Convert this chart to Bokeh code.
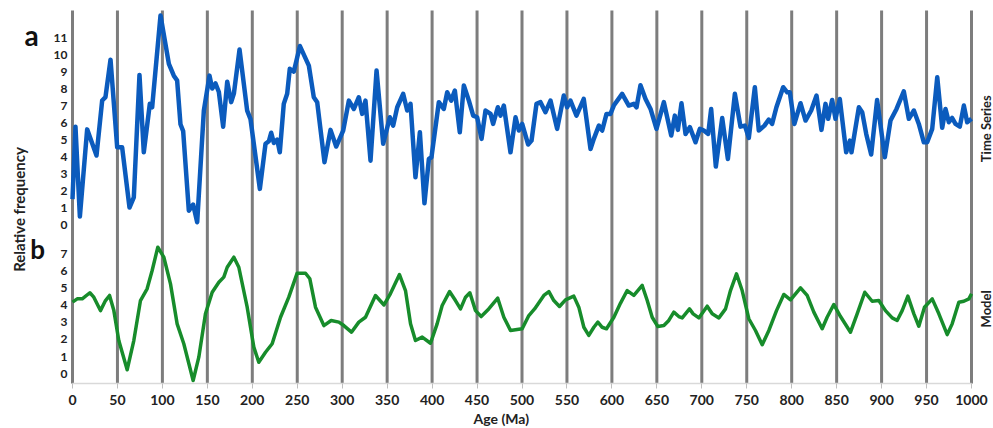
import math
from bokeh.plotting import figure
from bokeh.models import (ColumnDataSource, Range1d, FixedTicker, CustomJSTickFormatter, Label,
                          LinearAxis)
from bokeh.transform import dodge
from bokeh.embed import file_html
from bokeh.resources import INLINE

# ---- data ----
ts_age = [0, 3.3, 8.2, 16.3, 26.7, 33, 36.7, 42.3, 49.7, 55.2, 63.4, 68.2, 74.5, 79.3, 86, 88.6, 97.9,
          107.2, 112.7, 116.4, 120.1, 123.1, 129.4, 134.2, 138.7, 146.1, 152.4, 155.4, 159.1, 162.8,
          167.6, 172.1, 176.5, 179.5, 185.8, 194.3, 198, 208.4, 214.7, 218.4, 221, 224, 227.7, 230.6,
          235, 238.8, 241.7, 246.2, 253, 262.9, 268.4, 272.2, 280.3, 287, 293.3, 301.1, 307.4, 313,
          318.5, 322.2, 325.9, 331.5, 338.2, 345.6, 353, 356.7, 361.2, 367.8, 372.3, 376, 381.5, 386.4,
          391.5, 396.4, 399.3, 407.5, 413, 416.8, 421.2, 425.3, 430.8, 435.3, 440.9, 445.7, 450.1, 455,
          459.4, 465, 467.9, 473.1, 476.1, 479.8, 487.2, 492.8, 496.5, 500.2, 506.8, 510.6, 516.1,
          520.6, 526.1, 531.7, 539.1, 546.5, 550.2, 553.9, 560.6, 568.7, 576.2, 579.9, 585.5, 589.2,
          594, 598.4, 602.1, 611.4, 618.8, 624.4, 627.4, 631.8, 637.4, 643, 649.6, 657.8, 666, 670,
          673.4, 677.4, 681.9, 686.7, 693, 697.8, 702.3, 707.1, 710.4, 715.6, 722.7, 729, 736.8, 743,
          747.9, 752.3, 759, 763.4, 769.7, 774.5, 778.2, 783, 790.5, 795, 797.9, 803, 809.8, 815.4,
          821.7, 827.6, 833.1, 837.6, 840.6, 845, 848.7, 853.5, 860.6, 864.7, 866.5, 874.7, 878.4,
          882.9, 888.4, 895, 903.6, 909.9, 916.6, 924.7, 930.3, 935.9, 941.4, 947, 950.7, 956.3,
          961.9, 967.4, 971.1, 974.8, 978.5, 982.2, 987, 991.5, 995.2, 1000]
ts_val = [1.5, 5.76, 0.47, 5.6, 4.06, 7.3, 7.5, 9.7, 4.55, 4.55, 1.0, 1.6, 8.8, 4.25, 7.1, 6.9, 12.3,
          9.45, 8.76, 8.47, 5.9, 5.5, 0.82, 1.18, 0.14, 6.7, 8.76, 8.0, 8.3, 7.8,
          5.76, 8.4, 7.2, 7.7, 10.3, 6.7, 6.2, 2.1, 4.75, 4.9, 5.4, 4.8, 5.0, 4.25,
          7.1, 7.7, 9.16, 9.0, 10.5, 9.35, 7.49, 7.2, 3.67, 5.57, 4.59, 5.53, 7.29, 6.8,
          7.49, 6.51, 7.29, 3.76, 9.06, 4.75, 6.31, 5.82, 6.9, 7.69, 6.71, 7.1, 2.78, 5.43,
          1.25, 3.86, 3.96, 7.2, 6.8, 7.78, 7.29, 7.88, 5.43, 8.18, 7.29, 6.41, 6.31, 5.04,
          6.71, 6.51, 5.92, 6.9, 6.41, 7.0, 4.25, 6.31, 5.53, 5.92, 4.71, 4.94, 7.1,
          7.2, 6.61, 7.29, 5.63, 7.59, 6.9, 7.29, 6.41, 7.39, 4.45, 5.04, 5.82, 5.53,
          6.51, 6.51, 7.0, 7.69, 7.0, 7.1, 6.9, 8.2, 7.39, 6.8, 5.63, 7.2, 5.24, 6.41,
          5.57, 7.14, 5.33, 5.73, 4.84, 5.63, 5.53, 5.33, 6.8, 3.41, 6.27, 3.86, 7.69, 5.76,
          5.82, 5.1, 8.08, 5.53, 5.82, 6.18, 5.92, 6.9, 8.08, 7.78, 7.78, 5.92, 7.14, 6.12,
          6.71, 7.59, 5.57, 7.1, 6.22, 7.33, 6.22, 7.39, 4.25, 4.94, 4.25, 6.9, 6.61,
          5.33, 4.12, 7.33, 3.96, 6.12, 6.8, 7.84, 6.22, 6.71, 5.92, 4.84, 4.84, 5.63,
          8.67, 5.69, 6.8, 6.02, 6.27, 5.92, 5.76, 7.0, 6.02, 6.22]

model_age = [0, 5.2, 10.8, 19.3, 23.7, 31.1, 36.7, 41.2, 46, 51.5, 60.8, 68.2, 75.6, 83, 88.6, 94.9,
             101.6, 109, 116.4, 123.8, 134.2, 140.5, 147.9, 155.4, 162.8, 168.3, 172.1, 179.5, 185,
             194.3, 201.7, 207.2, 214.7, 222.1, 231.4, 240.6, 249.9, 259.2, 264, 270.3, 279.6, 287.7,
             296.3, 301.8, 310.3, 318.5, 325.9, 337, 346.5, 353.7, 363.7, 370.4, 376, 381.5, 389,
             398.2, 405.6, 411.2, 419.4, 426, 431.6, 437.2, 442, 448.3, 454.6, 463, 473, 479.8, 487.2,
             494.6, 500.2, 507.6, 514, 524.3, 529.9, 535.4, 541.7, 548.4, 557.6, 563.2, 568.8, 574.3,
             579.9, 584.4, 589.2, 594, 602.2, 609.6, 617, 624.4, 633.7, 639.3, 644.8, 651.1, 657.8,
             663.3, 668.9, 674.4, 678.2, 686.3, 690.4, 696.7, 706, 711.6, 719, 726.4, 731.9, 738.6,
             744.9, 752.3, 759.7, 767.2, 774.6, 783.1, 791.2, 798.7, 809.8, 817.2, 824.6, 833.9, 839.4,
             846.8, 854.3, 865.4, 872.8, 881.3, 889.5, 896.9, 904.3, 911.8, 917.3, 922.9, 929.2, 935.9,
             941.4, 947.7, 956.3, 963.7, 973, 978.5, 985.9, 991.5, 997.1, 1000]
model_val = [4.2, 4.39, 4.39, 4.75, 4.49, 3.7, 4.29, 4.59, 3.7, 1.94, 0.22, 1.94, 4.29, 4.98, 6.06, 7.43,
             6.84, 5.27, 2.92, 1.75, -0.41, 0.96, 3.51, 4.78, 5.37, 5.67, 6.25, 6.84, 6.25,
             3.9, 1.55, 0.66, 1.25, 1.75, 3.31, 4.49, 5.9, 5.9, 5.57, 3.9, 2.82, 3.12,
             3.02, 2.82, 2.43, 3.02, 3.31, 4.59, 4.03, 4.7, 5.82, 4.88, 2.92, 1.94, 2.14,
             1.78, 2.92, 4.0, 4.82, 4.29, 3.8, 4.49, 4.75, 3.7, 3.35, 3.8, 4.43, 3.31, 2.53,
             2.59, 2.63, 3.41, 3.8, 4.59, 4.82, 4.29, 3.94, 4.33, 4.55, 3.9, 2.72, 2.24,
             2.72, 3.02, 2.72, 2.63, 3.31, 4.14, 4.88, 4.59, 5.18, 4.29, 3.31, 2.76, 2.82,
             3.12, 3.61, 3.35, 3.27, 3.8, 3.51, 3.27, 3.96, 3.51, 3.27, 3.8, 4.88, 5.86,
             4.88, 3.22, 2.53, 1.69, 2.53, 3.7, 4.65, 4.33, 5.04, 4.59, 3.61, 2.63, 3.31,
             4.06, 3.35, 2.43, 3.51, 4.78, 4.25, 4.29, 3.7, 3.27, 3.12, 3.7, 4.55, 3.51,
             2.78, 3.9, 4.39, 3.51, 2.29, 2.92, 4.19, 4.25, 4.39, 4.69]

age_ticks = list(range(0, 1001, 50))
model_ticks = list(range(0, 8))
ts_ticks = list(range(0, 12))
TS_OFFSET = 8.76        # vertical offset of panel (a) in the shared y scale
Y_BOTTOM, Y_TOP = -0.59, 21.35   # extent of the plotting area (gridline span)

FONT = "Lato"
TXT = "#222222"

ts_src = ColumnDataSource(dict(age=ts_age, v=ts_val))
md_src = ColumnDataSource(dict(age=model_age, v=model_val))
grid_src = ColumnDataSource(dict(x=age_ticks, y0=[Y_BOTTOM] * len(age_ticks),
                                 y1=[Y_TOP] * len(age_ticks)))

# the frame covers the whole canvas; axes sit at fixed data locations inside it
p = figure(width=993, height=428, output_backend="svg", toolbar_location=None,
           x_range=Range1d(-80.09, 1024.47), y_range=Range1d(-3.235, 21.94),
           min_border=0, x_axis_type=None, y_axis_type=None)
p.outline_line_color = None
p.background_fill_color = "white"
p.border_fill_color = "white"
p.xgrid.grid_line_color = None
p.ygrid.grid_line_color = None

# vertical gray lines every 50 Ma
p.segment(x0="x", y0="y0", x1="x", y1="y1", source=grid_src, line_color="#7d7d7d", line_width=3)

# x axis
xax = LinearAxis(fixed_location=Y_BOTTOM, bounds=(0, 1000))
xax.ticker = FixedTicker(ticks=age_ticks)
xax.axis_line_color = "#d9d9d9"
xax.axis_line_width = 1.5
xax.major_tick_line_color = "#bfbfbf"
xax.major_tick_out = 5
xax.major_tick_in = 0
xax.minor_tick_line_color = None
xax.major_label_standoff = 6
xax.major_label_text_font = FONT
xax.major_label_text_font_style = "bold"
xax.major_label_text_font_size = "14px"
xax.major_label_text_color = TXT
p.add_layout(xax, "below")

# y axis: two label sets, one per panel
yt = [float(t) for t in model_ticks] + [TS_OFFSET + t for t in ts_ticks]
yax = LinearAxis(fixed_location=0)
yax.ticker = FixedTicker(ticks=yt)
yax.formatter = CustomJSTickFormatter(args=dict(off=TS_OFFSET), code="""
    if (tick > off - 0.3) { return String(Math.round(tick - off)); }
    return String(Math.round(tick));
""")
yax.axis_line_color = None
yax.major_tick_line_color = None
yax.minor_tick_line_color = None
yax.major_tick_out = 0
yax.major_tick_in = 0
yax.major_label_standoff = 5
yax.major_label_text_font = FONT
yax.major_label_text_font_style = "bold"
yax.major_label_text_font_size = "12px"
yax.major_label_text_color = TXT
p.add_layout(yax, "left")

p.line(x="age", y="v", source=md_src, line_color="#178c2b", line_width=3.5, line_join="round")
p.line(x="age", y=dodge("v", TS_OFFSET), source=ts_src, line_color="#0b5bbd", line_width=4.5,
       line_join="round")

def lab(x, y, text, size, angle=0.0, color=TXT):
    p.add_layout(Label(x=x, y=y, text=text, angle=angle, text_align="center",
                       text_baseline="middle", text_font=FONT, text_font_style="bold",
                       text_font_size=size, text_color=color))

lab(477, -2.66, "Age (Ma)", "14px")
lab(-60, 9.65, "Relative frequency", "15px", math.pi / 2)
lab(-45.6, 19.9, "a", "28px", color="#111111")
lab(-38.9, 7.3, "b", "26px", color="#111111")
lab(1016.5, 14.4, "Time Series", "13px", math.pi / 2)
lab(1016.5, 3.8, "Model", "13px", math.pi / 2)

open("out.html", "w").write(file_html(p, INLINE))
